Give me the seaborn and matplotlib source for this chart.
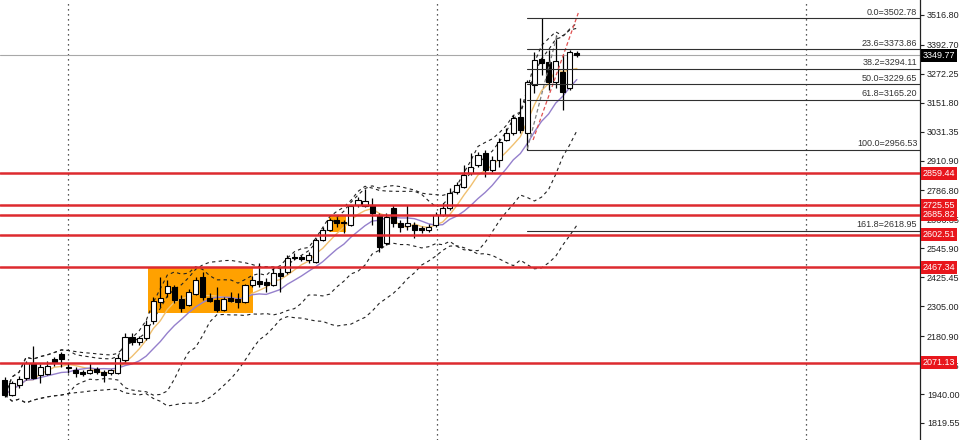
import numpy as np
import pandas as pd
import matplotlib
matplotlib.use("Agg")
import matplotlib.pyplot as plt
from matplotlib.patches import Rectangle
import seaborn as sns

# === weekly candles ===
opens = [1998, 1936, 1977, 2007, 2069, 2019, 2023, 2086, 2106, 2052,
         2040, 2032, 2027, 2044, 2032, 2027, 2027, 2082, 2177, 2156,
         2173, 2244, 2323, 2360, 2385, 2335, 2310, 2356, 2427, 2340,
         2331, 2289, 2340, 2335, 2323, 2394, 2410, 2406, 2394, 2444,
         2448, 2510, 2510, 2498, 2489, 2581, 2622, 2664, 2656, 2643,
         2727, 2722, 2727, 2685, 2568, 2714, 2652, 2639, 2643, 2631,
         2622, 2643, 2685, 2714, 2780, 2801, 2859, 2893, 2943, 2872,
         2914, 2997, 3026, 3093, 3026, 3226, 3334, 3321, 3238, 3280,
         3213, 3359]
highs = [2011, 1994, 2015, 2077, 2140, 2065, 2077, 2094, 2115, 2069,
         2052, 2040, 2069, 2052, 2040, 2044, 2102, 2194, 2194, 2181,
         2248, 2344, 2427, 2414, 2394, 2352, 2377, 2427, 2448, 2360,
         2385, 2344, 2364, 2360, 2398, 2431, 2485, 2423, 2469, 2469,
         2519, 2527, 2519, 2531, 2589, 2635, 2672, 2677, 2664, 2727,
         2760, 2793, 2756, 2693, 2693, 2727, 2664, 2727, 2656, 2639,
         2647, 2697, 2735, 2797, 2822, 2893, 2943, 2947, 2955, 2930,
         3005, 3047, 3101, 3171, 3246, 3363, 3502.78, 3371, 3433, 3350,
         3371, 3367]
lows = [1928, 1932, 1965, 1998, 2003, 1986, 2019, 2057, 2052, 2027,
        2011, 2015, 2023, 2023, 1990, 2019, 2023, 2073, 2144, 2144,
        2165, 2231, 2302, 2344, 2319, 2281, 2306, 2352, 2331, 2323,
        2281, 2285, 2323, 2298, 2319, 2385, 2385, 2364, 2390, 2364,
        2440, 2498, 2494, 2485, 2485, 2577, 2618, 2635, 2610, 2639,
        2718, 2718, 2643, 2531, 2560, 2635, 2614, 2622, 2589, 2610,
        2614, 2635, 2681, 2706, 2772, 2797, 2851, 2884, 2843, 2864,
        2884, 2993, 3018, 3026, 2956.53, 3192, 3267, 3205, 3213, 3122,
        3205, 3343]
closes = [1936, 1986, 2002, 2069, 2007, 2052, 2057, 2073, 2086, 2048,
          2027, 2023, 2040, 2032, 2019, 2040, 2090, 2177, 2156, 2173,
          2227, 2327, 2340, 2389, 2331, 2298, 2364, 2414, 2344, 2327,
          2289, 2335, 2327, 2323, 2394, 2414, 2398, 2394, 2444, 2431,
          2506, 2506, 2502, 2519, 2581, 2622, 2664, 2652, 2652, 2722,
          2747, 2743, 2693, 2552, 2677, 2652, 2635, 2652, 2622, 2622,
          2635, 2685, 2714, 2776, 2810, 2851, 2884, 2934, 2872, 2914,
          2988, 3026, 3088, 3038, 3238, 3330, 3317, 3238, 3325, 3196,
          3363, 3349.77]

# horizontal support / resistance levels
levels = [2859.44, 2725.55, 2685.82, 2602.51, 2467.34, 2071.13]
last_price = 3349.77

# fibonacci retracement
fib_pct = ["0.0", "23.6", "38.2", "50.0", "61.8", "100.0", "161.8"]
fib_vals = [3502.78, 3373.86, 3294.11, 3229.65, 3165.20, 2956.53, 2618.95]
fib_start = 74

# price scale ticks
yticks = [3516.80, 3392.70, 3272.25, 3151.80, 3031.35, 2910.90, 2786.80,
          2666.35, 2545.90, 2425.45, 2305.00, 2180.90, 2060.45, 1940.00,
          1819.55]

# highlighted zones (candle index range, price range)
zones = [((20.25, 35.1), (2277, 2467.34)),
         ((45.9, 48.3), (2614, 2685.82))]

# trend lines from the swing low (index, price)
trend_red = [(74.8, 2997), (81.2, 3525)]
trend_grey = [(74.0, 2960), (78.2, 3433)]

# period separators
separators = [8.9, 61.2, 113.4]

df = pd.DataFrame({"o": opens, "h": highs, "l": lows, "c": closes})
df["i"] = np.arange(len(df))
df["ma_fast"] = df["c"].rolling(5, min_periods=1).mean()
df["ma_slow"] = df["c"].rolling(10, min_periods=1).mean()
for n in (10, 20):
    m = df["c"].rolling(n, min_periods=1).mean()
    s = df["c"].rolling(n, min_periods=1).std(ddof=0)
    df[f"up{n}"] = m + 2 * s
    df[f"dn{n}"] = m - 2 * s

sns.set_theme(style="white")
plt.rcParams["font.family"] = ["Liberation Sans", "DejaVu Sans"]

fig = plt.figure(figsize=(9.6, 4.4), dpi=100)
ax = fig.add_axes([0, 0, 920 / 960, 1])

# zones
for (x0, x1), (y0, y1) in zones:
    ax.add_patch(Rectangle((x0, y0), x1 - x0, y1 - y0, fc="#ffa100",
                           ec="none", zorder=0.5))

# indicators
sns.lineplot(data=df, x="i", y="ma_fast", ax=ax, color="#f0c070", lw=1, zorder=1.5)
sns.lineplot(data=df, x="i", y="ma_slow", ax=ax, color="#9580cc", lw=1, zorder=1.5)
for col in ("up10", "dn10", "up20", "dn20"):
    sns.lineplot(data=df, x="i", y=col, ax=ax, color="#222222", lw=0.8,
                 linestyle=(0, (3, 3)), zorder=1.4)

# candles
up = df["c"] >= df["o"]
ax.vlines(df["i"], df["l"], df["h"], color="black", lw=0.9, zorder=2)
body = (df["c"] - df["o"]).abs().clip(lower=3)
ax.bar(df["i"], body, bottom=df[["o", "c"]].min(axis=1), width=0.72,
       color=np.where(up, "white", "black"), edgecolor="black", lw=0.8,
       zorder=2.1)

# trend lines
for pts, col in ((trend_grey, "#808080"), (trend_red, "#e05050")):
    (xa, ya), (xb, yb) = pts
    ax.plot([xa, xb], [ya, yb], color=col, lw=0.9, ls=(0, (3, 2)), zorder=2.5)

# period separators
for xv in separators:
    ax.axvline(xv, color="#222222", lw=0.9, ls=(0, (1, 3)), zorder=1)

# current price
ax.axhline(last_price, color="#a8a8a8", lw=0.8, zorder=1)

# fibonacci lines
xmax = 129.6
for pct, v in zip(fib_pct, fib_vals):
    ax.plot([fib_start, xmax], [v, v], color="#303030", lw=0.8, zorder=2.6)
    ax.text(0.997, v + 6, f"{pct}={v:.2f}", transform=ax.get_yaxis_transform(),
            ha="right", va="bottom", fontsize=6.5, color="#333333")

# support / resistance
for v in levels:
    ax.axhline(v, color="#dd2a2f", lw=1.8, zorder=3)

ax.set_xlim(-0.7, xmax)
ax.set_ylim(1748.8, 3579.2)
ax.set_xlabel("")
ax.set_ylabel("")
ax.set_xticks([])
ax.yaxis.tick_right()
ax.set_yticks(yticks)
ax.set_yticklabels([f"{t:.2f}" for t in yticks])
ax.tick_params(axis="y", right=True, length=3, width=0.8, pad=2,
               labelsize=6.5, colors="#222222")
for side in ("top", "left", "bottom"):
    ax.spines[side].set_visible(False)
ax.spines["right"].set_color("#222222")
ax.spines["right"].set_linewidth(0.9)

# right-hand price labels
tr = ax.get_yaxis_transform()
for v in levels:
    ax.text(1.003, v, f"{v:.2f}", transform=tr, ha="left", va="center",
            color="white", fontsize=6.5, zorder=5, clip_on=False,
            bbox=dict(boxstyle="square,pad=0.22", fc="#e8161c", ec="none"))
ax.text(1.003, last_price, f"{last_price:.2f}", transform=tr, ha="left",
        va="center", color="white", fontsize=6.5, zorder=5, clip_on=False,
        bbox=dict(boxstyle="square,pad=0.22", fc="black", ec="none"))

fig.savefig("out.png", dpi=100)
